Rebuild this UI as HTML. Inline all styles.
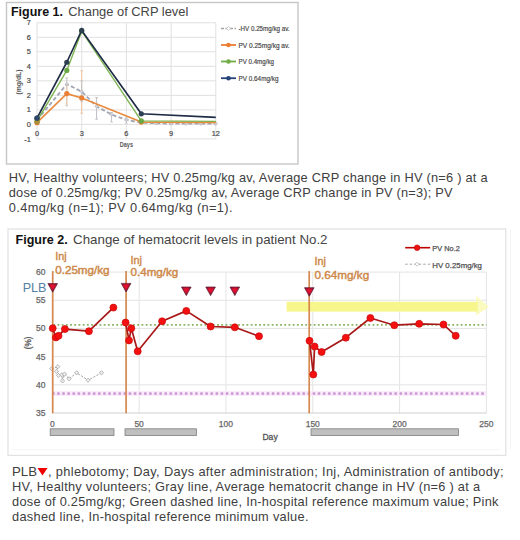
<!DOCTYPE html><html><head><meta charset="utf-8"><style>html,body{margin:0;padding:0;background:#fff;}svg{display:block;}text{font-family:"Liberation Sans", sans-serif;}</style></head><body>
<svg width="520" height="540" viewBox="0 0 520 540">
<defs><radialGradient id="tg" cx="0.5" cy="0.35" r="0.62"><stop offset="0" stop-color="#f01232"/><stop offset="0.45" stop-color="#c8102e"/><stop offset="1" stop-color="#4a1632"/></radialGradient></defs>
<rect x="0" y="0" width="520" height="540" fill="#fff"/>
<rect x="6.5" y="2.5" width="291.5" height="161.5" fill="none" stroke="#c6c6c6" stroke-width="1.4"/>
<text x="11.00" y="15.80" font-size="13" fill="#111" font-weight="bold" textLength="52.00" lengthAdjust="spacingAndGlyphs" >Figure 1.</text>
<text x="68.30" y="15.80" font-size="13" fill="#444" textLength="120.00" lengthAdjust="spacingAndGlyphs" >Change of CRP level</text>
<line x1="37.00" y1="138.92" x2="215.80" y2="138.92" stroke="#e0e0e0" stroke-width="1"/>
<line x1="37.00" y1="124.40" x2="215.80" y2="124.40" stroke="#e0e0e0" stroke-width="1"/>
<line x1="37.00" y1="109.88" x2="215.80" y2="109.88" stroke="#e0e0e0" stroke-width="1"/>
<line x1="37.00" y1="95.36" x2="215.80" y2="95.36" stroke="#e0e0e0" stroke-width="1"/>
<line x1="37.00" y1="80.84" x2="215.80" y2="80.84" stroke="#e0e0e0" stroke-width="1"/>
<line x1="37.00" y1="66.32" x2="215.80" y2="66.32" stroke="#e0e0e0" stroke-width="1"/>
<line x1="37.00" y1="51.80" x2="215.80" y2="51.80" stroke="#e0e0e0" stroke-width="1"/>
<line x1="37.00" y1="37.28" x2="215.80" y2="37.28" stroke="#e0e0e0" stroke-width="1"/>
<line x1="37.00" y1="22.76" x2="215.80" y2="22.76" stroke="#e0e0e0" stroke-width="1"/>
<line x1="37.00" y1="22.76" x2="37.00" y2="138.92" stroke="#e0e0e0" stroke-width="1"/>
<line x1="81.70" y1="22.76" x2="81.70" y2="138.92" stroke="#e0e0e0" stroke-width="1"/>
<line x1="126.40" y1="22.76" x2="126.40" y2="138.92" stroke="#e0e0e0" stroke-width="1"/>
<line x1="171.10" y1="22.76" x2="171.10" y2="138.92" stroke="#e0e0e0" stroke-width="1"/>
<line x1="215.80" y1="22.76" x2="215.80" y2="138.92" stroke="#e0e0e0" stroke-width="1"/>
<text x="30.80" y="141.52" font-size="7.4" fill="#4a4a4a" text-anchor="end" stroke="#4a4a4a" stroke-width="0.2">-1</text>
<text x="30.80" y="127.00" font-size="7.4" fill="#4a4a4a" text-anchor="end" stroke="#4a4a4a" stroke-width="0.2">0</text>
<text x="30.80" y="112.48" font-size="7.4" fill="#4a4a4a" text-anchor="end" stroke="#4a4a4a" stroke-width="0.2">1</text>
<text x="30.80" y="97.96" font-size="7.4" fill="#4a4a4a" text-anchor="end" stroke="#4a4a4a" stroke-width="0.2">2</text>
<text x="30.80" y="83.44" font-size="7.4" fill="#4a4a4a" text-anchor="end" stroke="#4a4a4a" stroke-width="0.2">3</text>
<text x="30.80" y="68.92" font-size="7.4" fill="#4a4a4a" text-anchor="end" stroke="#4a4a4a" stroke-width="0.2">4</text>
<text x="30.80" y="54.40" font-size="7.4" fill="#4a4a4a" text-anchor="end" stroke="#4a4a4a" stroke-width="0.2">5</text>
<text x="30.80" y="39.88" font-size="7.4" fill="#4a4a4a" text-anchor="end" stroke="#4a4a4a" stroke-width="0.2">6</text>
<text x="30.80" y="25.36" font-size="7.4" fill="#4a4a4a" text-anchor="end" stroke="#4a4a4a" stroke-width="0.2">7</text>
<text x="37.00" y="135.60" font-size="7.4" fill="#4a4a4a" text-anchor="middle" stroke="#4a4a4a" stroke-width="0.2">0</text>
<text x="81.70" y="135.60" font-size="7.4" fill="#4a4a4a" text-anchor="middle" stroke="#4a4a4a" stroke-width="0.2">3</text>
<text x="126.40" y="135.60" font-size="7.4" fill="#4a4a4a" text-anchor="middle" stroke="#4a4a4a" stroke-width="0.2">6</text>
<text x="171.10" y="135.60" font-size="7.4" fill="#4a4a4a" text-anchor="middle" stroke="#4a4a4a" stroke-width="0.2">9</text>
<text x="215.80" y="135.60" font-size="7.4" fill="#4a4a4a" text-anchor="middle" stroke="#4a4a4a" stroke-width="0.2">12</text>
<text x="119.70" y="146.80" font-size="7.5" fill="#595959" font-weight="bold" textLength="13.30" lengthAdjust="spacingAndGlyphs" >Days</text>
<text x="0" y="0" font-size="7.5" fill="#595959" font-weight="bold" transform="translate(21.3,82) rotate(-90)" text-anchor="middle" textLength="25" lengthAdjust="spacingAndGlyphs">(mg/dL)</text>
<line x1="66.80" y1="77.94" x2="66.80" y2="105.81" stroke="#c4c4c4" stroke-width="1.0"/>
<line x1="65.50" y1="105.81" x2="68.10" y2="105.81" stroke="#c4c4c4" stroke-width="1.0"/>
<line x1="65.50" y1="77.94" x2="68.10" y2="77.94" stroke="#c4c4c4" stroke-width="1.0"/>
<line x1="66.80" y1="83.74" x2="66.80" y2="104.07" stroke="#f2c9a6" stroke-width="1.0"/>
<line x1="65.50" y1="104.07" x2="68.10" y2="104.07" stroke="#f2c9a6" stroke-width="1.0"/>
<line x1="65.50" y1="83.74" x2="68.10" y2="83.74" stroke="#f2c9a6" stroke-width="1.0"/>
<line x1="81.70" y1="70.68" x2="81.70" y2="113.22" stroke="#f0c4a0" stroke-width="1.0"/>
<line x1="80.40" y1="113.22" x2="83.00" y2="113.22" stroke="#f0c4a0" stroke-width="1.0"/>
<line x1="80.40" y1="70.68" x2="83.00" y2="70.68" stroke="#f0c4a0" stroke-width="1.0"/>
<line x1="81.70" y1="80.84" x2="81.70" y2="101.17" stroke="#c4c4c4" stroke-width="1.0"/>
<line x1="80.40" y1="101.17" x2="83.00" y2="101.17" stroke="#c4c4c4" stroke-width="1.0"/>
<line x1="80.40" y1="80.84" x2="83.00" y2="80.84" stroke="#c4c4c4" stroke-width="1.0"/>
<line x1="96.60" y1="97.54" x2="96.60" y2="119.17" stroke="#bdbdc4" stroke-width="1.0"/>
<line x1="95.30" y1="119.17" x2="97.90" y2="119.17" stroke="#bdbdc4" stroke-width="1.0"/>
<line x1="95.30" y1="97.54" x2="97.90" y2="97.54" stroke="#bdbdc4" stroke-width="1.0"/>
<line x1="111.50" y1="112.49" x2="111.50" y2="121.93" stroke="#c4c4c4" stroke-width="1.0"/>
<line x1="110.20" y1="121.93" x2="112.80" y2="121.93" stroke="#c4c4c4" stroke-width="1.0"/>
<line x1="110.20" y1="112.49" x2="112.80" y2="112.49" stroke="#c4c4c4" stroke-width="1.0"/>
<line x1="126.40" y1="117.87" x2="126.40" y2="123.24" stroke="#c8c8cc" stroke-width="1.0"/>
<line x1="125.10" y1="123.24" x2="127.70" y2="123.24" stroke="#c8c8cc" stroke-width="1.0"/>
<line x1="125.10" y1="117.87" x2="127.70" y2="117.87" stroke="#c8c8cc" stroke-width="1.0"/>
<polyline points="37.00,120.04 66.80,84.18 81.70,91.58 96.60,106.40 111.50,114.53 126.40,119.90 141.30,122.66 156.20,123.24 171.10,123.53 186.00,123.67 200.90,123.67 215.80,123.67" fill="none" stroke="#a3a8b4" stroke-width="1.9" stroke-linejoin="round" stroke-dasharray="4,2.4"/>
<path d="M35.20,120.04 L37.00,118.24 L38.80,120.04 L37.00,121.84 Z" fill="#d4d4d8" stroke="#b0b0b8" stroke-width="0.6"/>
<path d="M65.00,84.18 L66.80,82.38 L68.60,84.18 L66.80,85.98 Z" fill="#d4d4d8" stroke="#b0b0b8" stroke-width="0.6"/>
<path d="M79.90,91.58 L81.70,89.78 L83.50,91.58 L81.70,93.38 Z" fill="#d4d4d8" stroke="#b0b0b8" stroke-width="0.6"/>
<path d="M94.80,106.40 L96.60,104.60 L98.40,106.40 L96.60,108.20 Z" fill="#d4d4d8" stroke="#b0b0b8" stroke-width="0.6"/>
<path d="M109.70,114.53 L111.50,112.73 L113.30,114.53 L111.50,116.33 Z" fill="#d4d4d8" stroke="#b0b0b8" stroke-width="0.6"/>
<path d="M124.60,119.90 L126.40,118.10 L128.20,119.90 L126.40,121.70 Z" fill="#d4d4d8" stroke="#b0b0b8" stroke-width="0.6"/>
<path d="M139.50,122.66 L141.30,120.86 L143.10,122.66 L141.30,124.46 Z" fill="#d4d4d8" stroke="#b0b0b8" stroke-width="0.6"/>
<path d="M154.40,123.24 L156.20,121.44 L158.00,123.24 L156.20,125.04 Z" fill="#d4d4d8" stroke="#b0b0b8" stroke-width="0.6"/>
<path d="M169.30,123.53 L171.10,121.73 L172.90,123.53 L171.10,125.33 Z" fill="#d4d4d8" stroke="#b0b0b8" stroke-width="0.6"/>
<path d="M184.20,123.67 L186.00,121.87 L187.80,123.67 L186.00,125.47 Z" fill="#d4d4d8" stroke="#b0b0b8" stroke-width="0.6"/>
<path d="M199.10,123.67 L200.90,121.87 L202.70,123.67 L200.90,125.47 Z" fill="#d4d4d8" stroke="#b0b0b8" stroke-width="0.6"/>
<path d="M214.00,123.67 L215.80,121.87 L217.60,123.67 L215.80,125.47 Z" fill="#d4d4d8" stroke="#b0b0b8" stroke-width="0.6"/>
<polyline points="37.00,122.66 66.80,93.62 81.70,97.97 141.30,122.08 215.80,122.37" fill="none" stroke="#ea8a3e" stroke-width="1.6" stroke-linejoin="round" />
<circle cx="37.00" cy="122.66" r="2.6" fill="#ea8035"/>
<circle cx="66.80" cy="93.62" r="2.6" fill="#ea8035"/>
<circle cx="81.70" cy="97.97" r="2.6" fill="#ea8035"/>
<circle cx="141.30" cy="122.08" r="2.6" fill="#ea8035"/>
<polyline points="37.00,121.21 66.80,70.39 81.70,31.18 141.30,120.92 215.80,121.35" fill="none" stroke="#7cb450" stroke-width="1.35" stroke-linejoin="round" />
<circle cx="37.00" cy="121.21" r="2.6" fill="#6aa845"/>
<circle cx="66.80" cy="70.39" r="2.6" fill="#6aa845"/>
<circle cx="81.70" cy="31.18" r="2.6" fill="#6aa845"/>
<circle cx="141.30" cy="120.92" r="2.6" fill="#6aa845"/>
<polyline points="37.00,118.16 66.80,62.25 81.70,30.46 141.30,113.80 215.80,117.43" fill="none" stroke="#1f2c45" stroke-width="1.65" stroke-linejoin="round" />
<circle cx="37.00" cy="118.16" r="2.6" fill="#2c4052"/>
<circle cx="66.80" cy="62.25" r="2.6" fill="#2c4052"/>
<circle cx="81.70" cy="30.46" r="2.6" fill="#2c4052"/>
<circle cx="141.30" cy="113.80" r="2.6" fill="#2c4052"/>
<circle cx="37.00" cy="122.08" r="2.5" fill="#a89038"/>
<circle cx="37.00" cy="118.16" r="2.6" fill="#2e4668"/>
<line x1="221" y1="28.5" x2="236" y2="28.5" stroke="#a5a5a5" stroke-width="1.4" stroke-dasharray="3,1.5"/>
<path d="M226.5,28.5 L228.5,26.5 L230.5,28.5 L228.5,30.5 Z" fill="#fff" stroke="#b8b8b8" stroke-width="0.7"/>
<text x="238.50" y="31.10" font-size="7.7" fill="#444" textLength="51.10" lengthAdjust="spacingAndGlyphs" stroke="#444" stroke-width="0.18">-HV 0.25mg/kg av.</text>
<line x1="221" y1="45.0" x2="236" y2="45.0" stroke="#ed7d31" stroke-width="1.8"/>
<circle cx="228.5" cy="45.0" r="2.3" fill="#ed7d31"/>
<text x="238.50" y="47.60" font-size="7.7" fill="#444" textLength="51.10" lengthAdjust="spacingAndGlyphs" stroke="#444" stroke-width="0.18">PV 0.25mg/kg av.</text>
<line x1="221" y1="61.5" x2="236" y2="61.5" stroke="#70ad47" stroke-width="1.8"/>
<circle cx="228.5" cy="61.5" r="2.3" fill="#70ad47"/>
<text x="238.50" y="64.10" font-size="7.7" fill="#444" textLength="35.50" lengthAdjust="spacingAndGlyphs" stroke="#444" stroke-width="0.18">PV 0.4mg/kg</text>
<line x1="221" y1="78.2" x2="236" y2="78.2" stroke="#264478" stroke-width="1.8"/>
<circle cx="228.5" cy="78.2" r="2.3" fill="#264478"/>
<text x="238.50" y="80.80" font-size="7.7" fill="#444" textLength="40.00" lengthAdjust="spacingAndGlyphs" stroke="#444" stroke-width="0.18">PV 0.64mg/kg</text>
<text x="8.80" y="181.90" font-size="12.8" fill="#404040" textLength="478.70" lengthAdjust="spacing" >HV, Healthy volunteers; HV 0.25mg/kg av, Average CRP change in HV (n=6 ) at a</text>
<text x="8.80" y="197.30" font-size="12.8" fill="#404040" textLength="443.70" lengthAdjust="spacing" >dose of 0.25mg/kg; PV 0.25mg/kg av, Average CRP change in PV (n=3); PV</text>
<text x="8.80" y="212.40" font-size="12.8" fill="#404040" textLength="223.70" lengthAdjust="spacing" >0.4mg/kg (n=1); PV 0.64mg/kg (n=1).</text>
<rect x="8" y="229" width="497.8" height="226.4" fill="none" stroke="#e2e2e2" stroke-width="1.2"/>
<text x="15.50" y="243.80" font-size="13" fill="#111" font-weight="bold" textLength="52.30" lengthAdjust="spacingAndGlyphs" >Figure 2.</text>
<line x1="52.30" y1="384.82" x2="486.40" y2="384.82" stroke="#e4e4e4" stroke-width="1"/>
<line x1="52.30" y1="356.64" x2="486.40" y2="356.64" stroke="#e4e4e4" stroke-width="1"/>
<line x1="52.30" y1="328.46" x2="486.40" y2="328.46" stroke="#e4e4e4" stroke-width="1"/>
<line x1="52.30" y1="300.28" x2="486.40" y2="300.28" stroke="#e4e4e4" stroke-width="1"/>
<line x1="52.30" y1="272.10" x2="486.40" y2="272.10" stroke="#e4e4e4" stroke-width="1"/>
<line x1="139.12" y1="272.10" x2="139.12" y2="413.00" stroke="#e4e4e4" stroke-width="1"/>
<line x1="225.94" y1="272.10" x2="225.94" y2="413.00" stroke="#e4e4e4" stroke-width="1"/>
<line x1="312.76" y1="272.10" x2="312.76" y2="413.00" stroke="#e4e4e4" stroke-width="1"/>
<line x1="399.58" y1="272.10" x2="399.58" y2="413.00" stroke="#e4e4e4" stroke-width="1"/>
<line x1="486.40" y1="272.10" x2="486.40" y2="413.00" stroke="#e4e4e4" stroke-width="1"/>
<line x1="52.30" y1="413.00" x2="486.40" y2="413.00" stroke="#d0d0d0" stroke-width="1"/>
<text x="45.40" y="416.00" font-size="8.5" fill="#666" text-anchor="end" stroke="#666" stroke-width="0.25">35</text>
<text x="45.40" y="387.82" font-size="8.5" fill="#666" text-anchor="end" stroke="#666" stroke-width="0.25">40</text>
<text x="45.40" y="359.64" font-size="8.5" fill="#666" text-anchor="end" stroke="#666" stroke-width="0.25">45</text>
<text x="45.40" y="331.46" font-size="8.5" fill="#666" text-anchor="end" stroke="#666" stroke-width="0.25">50</text>
<text x="45.40" y="303.28" font-size="8.5" fill="#666" text-anchor="end" stroke="#666" stroke-width="0.25">55</text>
<text x="45.40" y="275.10" font-size="8.5" fill="#666" text-anchor="end" stroke="#666" stroke-width="0.25">60</text>
<text x="52.30" y="426.60" font-size="8.5" fill="#666" text-anchor="middle" stroke="#666" stroke-width="0.25">0</text>
<text x="139.12" y="426.60" font-size="8.5" fill="#666" text-anchor="middle" stroke="#666" stroke-width="0.25">50</text>
<text x="225.94" y="426.60" font-size="8.5" fill="#666" text-anchor="middle" stroke="#666" stroke-width="0.25">100</text>
<text x="312.76" y="426.60" font-size="8.5" fill="#666" text-anchor="middle" stroke="#666" stroke-width="0.25">150</text>
<text x="399.58" y="426.60" font-size="8.5" fill="#666" text-anchor="middle" stroke="#666" stroke-width="0.25">200</text>
<text x="486.40" y="426.60" font-size="8.5" fill="#666" text-anchor="middle" stroke="#666" stroke-width="0.25">250</text>
<text x="262.40" y="439.60" font-size="8.6" fill="#555" stroke="#555" stroke-width="0.3">Day</text>
<text x="0" y="0" font-size="8.2" fill="#555" stroke="#555" stroke-width="0.3" transform="translate(30.6,342.8) rotate(-90)" text-anchor="middle">(%)</text>
<text x="73.10" y="243.80" font-size="13" fill="#444" textLength="254.40" lengthAdjust="spacingAndGlyphs" >Change of hematocrit levels in patient No.2</text>
<line x1="53.30" y1="324.8" x2="486.40" y2="324.8" stroke="#88b262" stroke-width="1.7" stroke-dasharray="1.8,2.4"/>
<line x1="52.30" y1="393.6" x2="486.40" y2="393.6" stroke="#fbeafb" stroke-width="5"/>
<line x1="53.30" y1="393.6" x2="486.40" y2="393.6" stroke="#cc9fd4" stroke-width="3.0" stroke-linecap="round" stroke-dasharray="0.01,5.1"/>
<path d="M476,296 L489,306.7 L476,315.4 Z" fill="#fafabe"/>
<rect x="286.6" y="301.8" width="191" height="9.8" fill="#f6f68c"/>
<polyline points="51.70,368.70 57.80,366.70 56.40,371.40 58.50,375.50 61.80,374.80 62.50,380.90 64.50,374.10 69.20,378.80 76.60,372.80 88.10,380.20 101.50,372.80" fill="none" stroke="#999" stroke-width="0.9" stroke-linejoin="round" stroke-dasharray="2.2,1.4"/>
<path d="M49.60,368.70 L51.70,366.60 L53.80,368.70 L51.70,370.80 Z" fill="#eee" stroke="#9c9c9c" stroke-width="0.7"/>
<path d="M55.70,366.70 L57.80,364.60 L59.90,366.70 L57.80,368.80 Z" fill="#eee" stroke="#9c9c9c" stroke-width="0.7"/>
<path d="M54.30,371.40 L56.40,369.30 L58.50,371.40 L56.40,373.50 Z" fill="#eee" stroke="#9c9c9c" stroke-width="0.7"/>
<path d="M56.40,375.50 L58.50,373.40 L60.60,375.50 L58.50,377.60 Z" fill="#eee" stroke="#9c9c9c" stroke-width="0.7"/>
<path d="M59.70,374.80 L61.80,372.70 L63.90,374.80 L61.80,376.90 Z" fill="#eee" stroke="#9c9c9c" stroke-width="0.7"/>
<path d="M60.40,380.90 L62.50,378.80 L64.60,380.90 L62.50,383.00 Z" fill="#eee" stroke="#9c9c9c" stroke-width="0.7"/>
<path d="M62.40,374.10 L64.50,372.00 L66.60,374.10 L64.50,376.20 Z" fill="#eee" stroke="#9c9c9c" stroke-width="0.7"/>
<path d="M67.10,378.80 L69.20,376.70 L71.30,378.80 L69.20,380.90 Z" fill="#eee" stroke="#9c9c9c" stroke-width="0.7"/>
<path d="M74.50,372.80 L76.60,370.70 L78.70,372.80 L76.60,374.90 Z" fill="#eee" stroke="#9c9c9c" stroke-width="0.7"/>
<path d="M86.00,380.20 L88.10,378.10 L90.20,380.20 L88.10,382.30 Z" fill="#eee" stroke="#9c9c9c" stroke-width="0.7"/>
<path d="M99.40,372.80 L101.50,370.70 L103.60,372.80 L101.50,374.90 Z" fill="#eee" stroke="#9c9c9c" stroke-width="0.7"/>
<line x1="52.7" y1="271.1" x2="52.7" y2="413.3" stroke="#d6884f" stroke-width="1.7"/>
<line x1="126.1" y1="271.1" x2="126.1" y2="413.3" stroke="#d6884f" stroke-width="1.7"/>
<line x1="309.2" y1="271.1" x2="309.2" y2="413.3" stroke="#d6884f" stroke-width="1.7"/>
<text x="55.20" y="260.10" font-size="10.8" fill="#cd8746" stroke="#cd8746" stroke-width="0.4">Inj</text>
<text x="55.20" y="273.60" font-size="10.8" fill="#cd8746" textLength="54.40" lengthAdjust="spacingAndGlyphs" stroke="#cd8746" stroke-width="0.4">0.25mg/kg</text>
<text x="130.60" y="263.60" font-size="10.8" fill="#cd8746" stroke="#cd8746" stroke-width="0.4">Inj</text>
<text x="130.60" y="276.30" font-size="10.8" fill="#cd8746" textLength="47.70" lengthAdjust="spacingAndGlyphs" stroke="#cd8746" stroke-width="0.4">0.4mg/kg</text>
<text x="314.60" y="265.40" font-size="10.8" fill="#cd8746" stroke="#cd8746" stroke-width="0.4">Inj</text>
<text x="314.60" y="279.00" font-size="10.8" fill="#cd8746" textLength="54.60" lengthAdjust="spacingAndGlyphs" stroke="#cd8746" stroke-width="0.4">0.64mg/kg</text>
<text x="22.70" y="292.20" font-size="13.2" fill="#5580a3" textLength="23.80" lengthAdjust="spacingAndGlyphs" >PLB</text>
<path d="M47.90,283.60 L57.50,283.60 L52.70,292.20 Z" fill="url(#tg)" stroke="#5e1a30" stroke-width="0.7" stroke-linejoin="round"/>
<path d="M121.30,283.40 L130.90,283.40 L126.10,292.00 Z" fill="url(#tg)" stroke="#5e1a30" stroke-width="0.7" stroke-linejoin="round"/>
<path d="M181.50,287.00 L191.10,287.00 L186.30,295.60 Z" fill="url(#tg)" stroke="#5e1a30" stroke-width="0.7" stroke-linejoin="round"/>
<path d="M205.80,287.00 L215.40,287.00 L210.60,295.60 Z" fill="url(#tg)" stroke="#5e1a30" stroke-width="0.7" stroke-linejoin="round"/>
<path d="M230.00,287.00 L239.60,287.00 L234.80,295.60 Z" fill="url(#tg)" stroke="#5e1a30" stroke-width="0.7" stroke-linejoin="round"/>
<path d="M304.50,287.70 L314.10,287.70 L309.30,296.30 Z" fill="url(#tg)" stroke="#5e1a30" stroke-width="0.7" stroke-linejoin="round"/>
<polyline points="52.70,328.20 55.90,337.40 58.50,335.80 64.90,329.10 88.90,331.20 113.40,307.60" fill="none" stroke="#a81818" stroke-width="1.7" stroke-linejoin="round" />
<polyline points="125.60,322.50 129.00,340.40 131.30,328.30 137.70,351.30 162.10,321.30 186.30,310.90 210.60,326.50 234.80,327.30 259.00,336.20" fill="none" stroke="#a81818" stroke-width="1.7" stroke-linejoin="round" />
<polyline points="309.50,340.80 313.30,374.50 314.60,346.50 321.60,352.00 345.80,337.70 370.40,318.00 394.30,325.20 419.20,323.80 443.50,324.50 455.70,335.80" fill="none" stroke="#a81818" stroke-width="1.7" stroke-linejoin="round" />
<circle cx="52.70" cy="328.20" r="3.5" fill="#f41010" stroke="#c80a0a" stroke-width="0.7"/>
<circle cx="55.90" cy="337.40" r="3.5" fill="#f41010" stroke="#c80a0a" stroke-width="0.7"/>
<circle cx="58.50" cy="335.80" r="3.5" fill="#f41010" stroke="#c80a0a" stroke-width="0.7"/>
<circle cx="64.90" cy="329.10" r="3.5" fill="#f41010" stroke="#c80a0a" stroke-width="0.7"/>
<circle cx="88.90" cy="331.20" r="3.5" fill="#f41010" stroke="#c80a0a" stroke-width="0.7"/>
<circle cx="113.40" cy="307.60" r="3.5" fill="#f41010" stroke="#c80a0a" stroke-width="0.7"/>
<circle cx="125.60" cy="322.50" r="3.5" fill="#f41010" stroke="#c80a0a" stroke-width="0.7"/>
<circle cx="129.00" cy="340.40" r="3.5" fill="#f41010" stroke="#c80a0a" stroke-width="0.7"/>
<circle cx="131.30" cy="328.30" r="3.5" fill="#f41010" stroke="#c80a0a" stroke-width="0.7"/>
<circle cx="137.70" cy="351.30" r="3.5" fill="#f41010" stroke="#c80a0a" stroke-width="0.7"/>
<circle cx="162.10" cy="321.30" r="3.5" fill="#f41010" stroke="#c80a0a" stroke-width="0.7"/>
<circle cx="186.30" cy="310.90" r="3.5" fill="#f41010" stroke="#c80a0a" stroke-width="0.7"/>
<circle cx="210.60" cy="326.50" r="3.5" fill="#f41010" stroke="#c80a0a" stroke-width="0.7"/>
<circle cx="234.80" cy="327.30" r="3.5" fill="#f41010" stroke="#c80a0a" stroke-width="0.7"/>
<circle cx="259.00" cy="336.20" r="3.5" fill="#f41010" stroke="#c80a0a" stroke-width="0.7"/>
<circle cx="309.50" cy="340.80" r="3.5" fill="#f41010" stroke="#c80a0a" stroke-width="0.7"/>
<circle cx="313.30" cy="374.50" r="3.5" fill="#f41010" stroke="#c80a0a" stroke-width="0.7"/>
<circle cx="314.60" cy="346.50" r="3.5" fill="#f41010" stroke="#c80a0a" stroke-width="0.7"/>
<circle cx="321.60" cy="352.00" r="3.5" fill="#f41010" stroke="#c80a0a" stroke-width="0.7"/>
<circle cx="345.80" cy="337.70" r="3.5" fill="#f41010" stroke="#c80a0a" stroke-width="0.7"/>
<circle cx="370.40" cy="318.00" r="3.5" fill="#f41010" stroke="#c80a0a" stroke-width="0.7"/>
<circle cx="394.30" cy="325.20" r="3.5" fill="#f41010" stroke="#c80a0a" stroke-width="0.7"/>
<circle cx="419.20" cy="323.80" r="3.5" fill="#f41010" stroke="#c80a0a" stroke-width="0.7"/>
<circle cx="443.50" cy="324.50" r="3.5" fill="#f41010" stroke="#c80a0a" stroke-width="0.7"/>
<circle cx="455.70" cy="335.80" r="3.5" fill="#f41010" stroke="#c80a0a" stroke-width="0.7"/>
<rect x="50.2" y="428.8" width="63.80" height="6.8" fill="#bfbfbf" stroke="#7f7f7f" stroke-width="0.8"/>
<rect x="125" y="428.8" width="71.50" height="6.8" fill="#bfbfbf" stroke="#7f7f7f" stroke-width="0.8"/>
<rect x="311" y="428.8" width="147.50" height="6.8" fill="#bfbfbf" stroke="#7f7f7f" stroke-width="0.8"/>
<line x1="405.2" y1="247.7" x2="430.2" y2="247.7" stroke="#c00000" stroke-width="1.6"/>
<circle cx="417.1" cy="247.7" r="2.8" fill="#ee1111" stroke="#c00000" stroke-width="0.6"/>
<text x="432.30" y="250.50" font-size="8" fill="#505050" textLength="27.50" lengthAdjust="spacingAndGlyphs" stroke="#505050" stroke-width="0.25">PV No.2</text>
<line x1="405.2" y1="264.2" x2="430.2" y2="264.2" stroke="#a5a5a5" stroke-width="1" stroke-dasharray="2.5,2"/>
<path d="M415.1,264.2 L417.1,262.2 L419.1,264.2 L417.1,266.2 Z" fill="#fff" stroke="#a0a0a0" stroke-width="0.6"/>
<text x="432.30" y="267.90" font-size="8" fill="#505050" textLength="49.70" lengthAdjust="spacingAndGlyphs" stroke="#505050" stroke-width="0.25">HV 0.25mg/kg</text>
<text x="12.00" y="475.50" font-size="12.8" fill="#404040" textLength="25.00" lengthAdjust="spacingAndGlyphs" >PLB</text>
<path d="M37.5,468 L47.5,468 L42.5,475.5 Z" fill="#ee0000"/>
<text x="48.00" y="475.50" font-size="12.8" fill="#404040" textLength="455.50" lengthAdjust="spacing" >, phlebotomy; Day, Days after administration; Inj, Administration of antibody;</text>
<text x="12.00" y="490.80" font-size="12.8" fill="#404040" textLength="468.00" lengthAdjust="spacing" >HV, Healthy volunteers; Gray line, Average hematocrit change in HV (n=6 ) at a</text>
<text x="12.00" y="506.20" font-size="12.8" fill="#404040" textLength="486.50" lengthAdjust="spacing" >dose of 0.25mg/kg; Green dashed line, In-hospital reference maximum value; Pink</text>
<text x="12.00" y="521.30" font-size="12.8" fill="#404040" textLength="296.50" lengthAdjust="spacing" >dashed line, In-hospital reference minimum value.</text>
<line x1="510.5" y1="230" x2="510.5" y2="449" stroke="#f3f3f3" stroke-width="1"/>
<line x1="12.5" y1="449.5" x2="500" y2="449.5" stroke="#f5f5f5" stroke-width="1"/>
</svg></body></html>
